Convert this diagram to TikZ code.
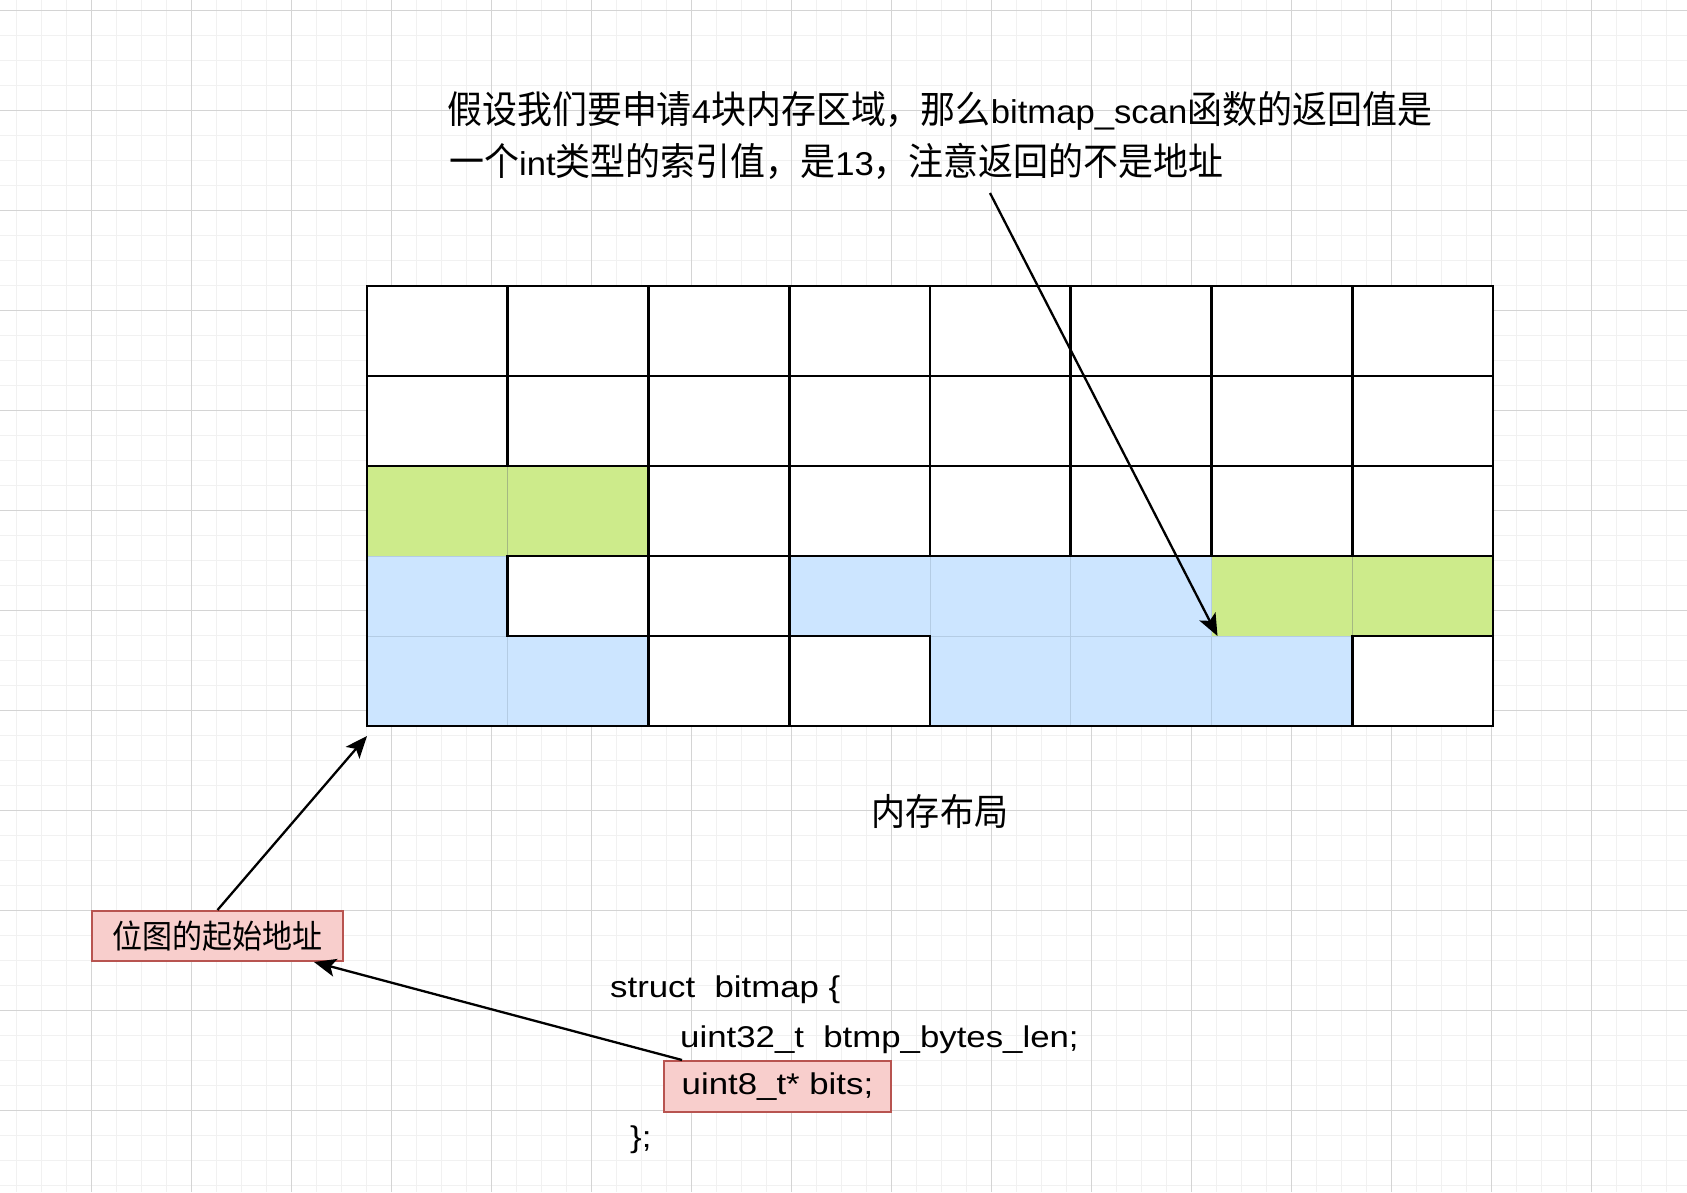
\documentclass[tikz,border=0pt]{standalone}
\usepackage{fontspec}
\setmainfont{Liberation Sans}[FakeStretch=1.16]
\newfontfamily\notelatin{Liberation Sans}[FakeStretch=1.05]
\newfontfamily\cjkfont{Noto Sans CJK SC}[FakeStretch=0.92]
\usetikzlibrary{arrows.meta}

\definecolor{gridmajor}{HTML}{D4D4D4}
\definecolor{gridminor}{HTML}{F1F1F1}
\definecolor{usedblue}{HTML}{CCE5FF}
\definecolor{usedgreen}{HTML}{CDEB8B}
\definecolor{blueedge}{HTML}{B4CCE4}
\definecolor{greenedge}{HTML}{A4B882}
\definecolor{noteFill}{HTML}{F8CECC}
\definecolor{noteLine}{HTML}{B85450}

% Chinese text at a given size
\newcommand\zh[2]{{\cjkfont\fontsize{#1}{#1}\selectfont #2}}
% Latin text sizes
\newcommand\latsize{\fontsize{30}{36}\selectfont}
\newcommand\notesize{\notelatin\fontsize{33}{40}\selectfont}

% one memory cell: style, name, column, row
\newcommand\cellnode[4]{%
  \pgfmathsetmacro\xl{367+140.75*#3}%
  \pgfmathsetmacro\yt{{286,376,466,556,636,726}[#4]}%
  \pgfmathsetmacro\yb{{286,376,466,556,636,726}[#4+1]}%
  \node[#1, minimum width=140.75pt, minimum height={(\yb-\yt)*1pt}, anchor=north west] (#2) at (\xl,\yt) {};%
}

\tikzset{
  cellbase/.style={rectangle, inner sep=0pt, outer sep=0pt},
  wcell/.style={cellbase, fill=white, draw=black, line width=2.7pt},
  bcell/.style={cellbase, fill=usedblue, draw=blueedge, line width=1pt},
  gcell/.style={cellbase, fill=usedgreen, draw=greenedge, line width=1pt},
  notebox/.style={rectangle, fill=noteFill, draw=noteLine, line width=2pt, inner sep=0pt},
  codeline/.style={anchor=base west, inner sep=0pt, font=\latsize},
  noteline/.style={anchor=base west, inner sep=0pt, font=\notesize},
  pointer/.style={line width=2.3pt, -{Stealth[length=22pt,width=18pt,inset=5pt]}},
}

\begin{document}
\begin{tikzpicture}[x=1pt,y=-1pt]
\useasboundingbox (0,0) rectangle (1687,1192);
\fill[white] (0,0) rectangle (1687,1192);

% background grid
\foreach \i in {0,...,68} \draw[gridminor, line width=1pt] ({-8.3+25*\i},0) -- ({-8.3+25*\i},1192);
\foreach \i in {0,...,48} \draw[gridminor, line width=1pt] (0,{-14.7+25*\i}) -- (1687,{-14.7+25*\i});
\foreach \i in {0,...,17} \draw[gridmajor, line width=1pt] ({-8.3+100*\i},0) -- ({-8.3+100*\i},1192);
\foreach \i in {0,...,12} \draw[gridmajor, line width=1pt] (0,{10.3+100*\i}) -- (1687,{10.3+100*\i});

% memory cells
\foreach \c/\r in {0/2,1/2,6/3,7/3} {\cellnode{gcell}{c\r\c}{\c}{\r}}
\foreach \c/\r in {0/3,3/3,4/3,5/3,0/4,1/4,4/4,5/4,6/4} {\cellnode{bcell}{c\r\c}{\c}{\r}}
\foreach \c in {0,...,7} {\cellnode{wcell}{c0\c}{\c}{0}\cellnode{wcell}{c1\c}{\c}{1}}
\foreach \c in {2,...,7} {\cellnode{wcell}{c2\c}{\c}{2}}
\foreach \c/\r in {1/3,2/3,2/4,3/4,7/4} {\cellnode{wcell}{c\r\c}{\c}{\r}}
\draw[line width=1.4pt] (c00.north west) rectangle (c47.south east);

% explanation above the memory
\node[noteline] (note1) at (447,123)
  {\zh{38}{假设我们要申请}4\zh{38}{块内存区域，那么}bitmap\_scan\zh{38}{函数的返回值是}};
\node[noteline] (note2) at (449,175)
  {\zh{38}{一个}int\zh{38}{类型的索引值，是}13\zh{38}{，注意返回的不是地址}};
\coordinate (scanFrom) at (990,193);

% caption
\node[inner sep=0pt] (caption) at (940,811) {\zh{37}{内存布局}};

% start address label
\node[notebox, minimum width=251pt, minimum height=50pt] (start) at (217.5,936) {\zh{32.6}{位图的起始地址}};

% struct definition
\node[codeline] (l1) at (610,997) {struct~~bitmap \{};
\node[codeline] (l2) at (680,1047) {uint32\_t~~btmp\_bytes\_len;};
\node[notebox, minimum width=227pt, minimum height=51pt, font=\latsize] (bitsbox) at (777.5,1086.5) {uint8\_t* bits;};
\node[codeline] (l4) at (630,1147) {\};};

% pointers
\draw[pointer] (scanFrom) -- ([xshift=6pt]c36.south west);
\draw[pointer] (start.north) -- ([yshift=-10pt]c40.south west);
\draw[pointer] ([xshift=19pt]bitsbox.north west) -- ([xshift=-30pt]start.south east);
\end{tikzpicture}
\end{document}
